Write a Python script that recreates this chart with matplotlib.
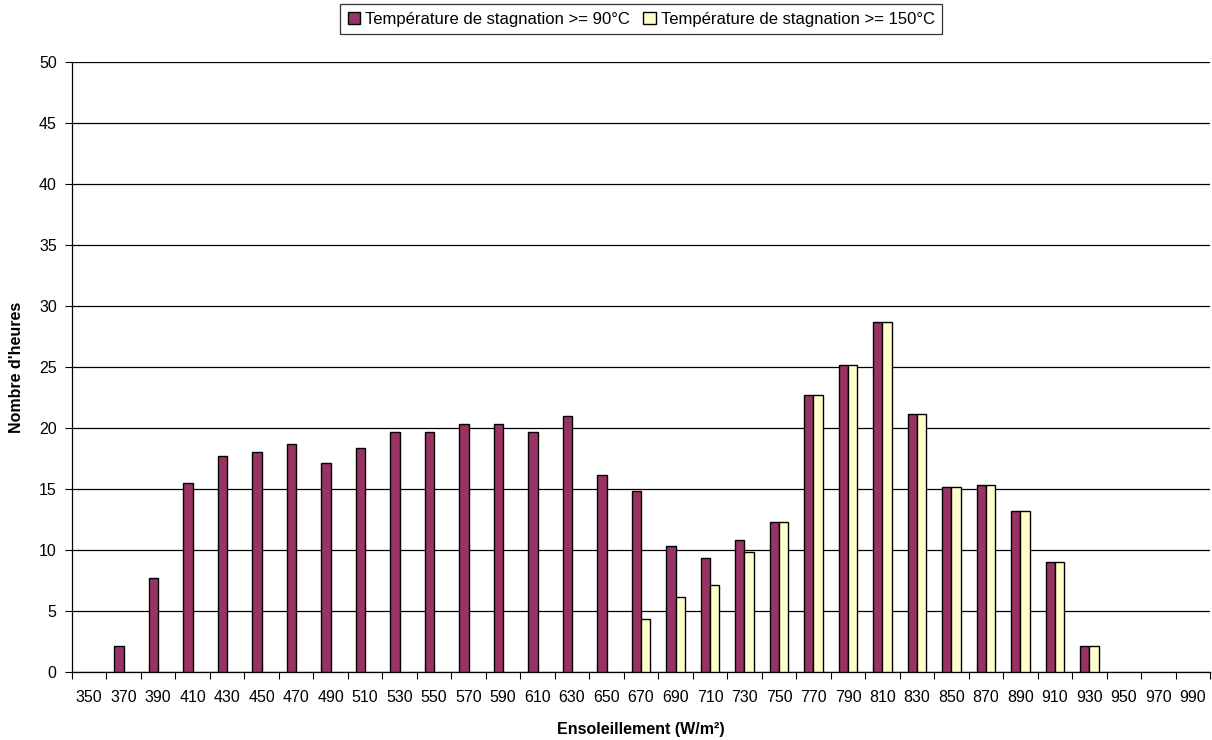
import numpy as np
import matplotlib
matplotlib.use("Agg")
import matplotlib.pyplot as plt

plt.rcParams["font.family"] = ["Liberation Sans", "DejaVu Sans"]

# irradiance classes (W/m²) and hours spent in each class
irradiance = [350, 370, 390, 410, 430, 450, 470, 490, 510, 530, 550, 570, 590,
              610, 630, 650, 670, 690, 710, 730, 750, 770, 790, 810, 830, 850,
              870, 890, 910, 930, 950, 970, 990]
hours_90 = [0, 2.17, 7.67, 15.5, 17.67, 18.0, 18.67, 17.17, 18.33, 19.67, 19.67,
            20.33, 20.33, 19.67, 21.0, 16.17, 14.83, 10.33, 9.33, 10.83, 12.33,
            22.67, 25.17, 28.67, 21.17, 15.17, 15.33, 13.17, 9.0, 2.17, 0, 0, 0]
hours_150 = [0, 0, 0, 0, 0, 0, 0, 0, 0, 0, 0, 0, 0, 0, 0, 0, 4.33, 6.17, 7.17,
             9.83, 12.33, 22.67, 25.17, 28.67, 21.17, 15.17, 15.33, 13.17, 9.0,
             2.17, 0, 0, 0]

PURPLE = "#993366"
CREAM = "#FFFFCC"

fig = plt.figure(figsize=(12.12, 7.4), dpi=100)
ax = fig.add_axes([0.0594, 0.0919, 0.939, 0.8243])

x = np.arange(len(irradiance))
w = 0.27
# empty classes get no bar at all (no outline on the baseline)
h90 = np.array(hours_90, dtype=float)
h150 = np.array(hours_150, dtype=float)
h90[h90 == 0] = np.nan
h150[h150 == 0] = np.nan
ax.bar(x - w / 2, h90, w, color=PURPLE, edgecolor="black", linewidth=1.0,
       label="Température de stagnation >= 90°C", zorder=3)
ax.bar(x + w / 2, h150, w, color=CREAM, edgecolor="black", linewidth=1.0,
       label="Température de stagnation >= 150°C", zorder=3)

ax.set_xlim(-0.5, len(irradiance) - 0.5)
ax.set_ylim(0, 50)
ax.set_yticks(np.arange(0, 51, 5))
ax.yaxis.grid(True, color="black", linewidth=0.9, zorder=0)
ax.set_axisbelow(True)

# labels centred under each class, tick marks on class boundaries
ax.set_xticks(x)
ax.set_xticklabels([str(v) for v in irradiance], fontsize=11.5)
ax.tick_params(axis="x", which="major", length=0, pad=13)
ax.set_xticks(np.arange(-0.5, len(irradiance)), minor=True)
ax.tick_params(axis="x", which="minor", length=5, direction="out", width=0.8)
ax.tick_params(axis="y", length=5, direction="out", width=0.8, labelsize=11.5, pad=6)

for side in ("top", "right"):
    ax.spines[side].set_visible(False)
for side in ("left", "bottom"):
    ax.spines[side].set_linewidth(0.9)

ax.set_xlabel("Ensoleillement (W/m²)", fontsize=11.5, fontweight="bold", labelpad=12)
ax.set_ylabel("Nombre d'heures", fontsize=11.5, fontweight="bold", labelpad=11)

leg = fig.legend(loc="upper center", bbox_to_anchor=(0.529, 0.994), ncol=2,
                 fontsize=12, frameon=True, fancybox=False, edgecolor="black",
                 handlelength=0.75, handleheight=0.75, handletextpad=0.3,
                 columnspacing=0.8, borderpad=0.45, borderaxespad=0.0)
leg.get_frame().set_linewidth(0.9)

fig.savefig("out.png", dpi=100)
plt.close(fig)
